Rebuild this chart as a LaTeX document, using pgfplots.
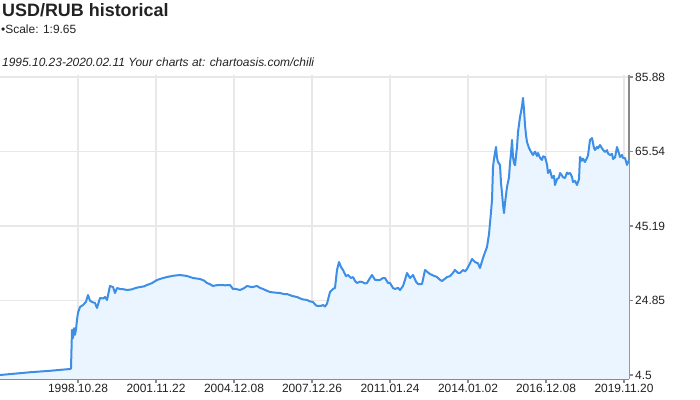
\documentclass[border=0pt]{standalone}
\usepackage{pgfplots}
\pgfplotsset{compat=1.18}
\usepackage{pgfplotstable}
\usepackage{fontspec}
\setmainfont{Liberation Sans}
\definecolor{linec}{HTML}{3D8EE6}
\definecolor{fillc}{HTML}{EAF5FF}
\definecolor{gridc}{HTML}{E8E8E8}
\definecolor{axc}{HTML}{8A8A8A}
\definecolor{txt}{HTML}{222222}

\pgfplotstableread{
x y
0 4.50
10 4.75
20 5.00
30 5.25
40 5.45
50 5.65
60 5.90
70 6.14
71 6.30
72 16.8
73 14.6
74 17.3
75 15.5
76 17.0
77 19.5
78 21.5
80 23.07
83 23.62
86 24.5
88 26.35
90 24.8
92 24.44
95 24.16
97 22.80
100 25.53
103 25.4
105 25.80
107 24.98
110 28.81
113 28.53
115 26.89
117 28.26
120 28.0
124 27.9
127 27.71
132 27.9
136 28.3
140 28.53
144 28.7
147 29.08
152 29.6
157 30.44
162 30.9
167 31.26
173 31.6
180 31.81
187 31.54
193 30.99
200 30.72
204 30.3
207 29.63
210 29.3
213 28.81
216 29.0
220 29.08
225 29.0
230 29.08
233 27.99
236 28.0
240 27.71
244 28.2
247 28.81
252 28.5
257 28.81
260 28.3
263 27.99
267 27.5
270 27.17
275 27.0
280 26.89
284 26.6
287 26.62
292 26.1
297 25.80
302 25.2
307 24.98
310 24.6
313 24.44
316 23.5
318 23.34
321 23.4
323 23.6
325 23.2
327 24.0
330 27.17
333 28.0
335 28.26
337 33.18
339 35.36
341 34.0
343 33.18
346 31.5
348 31.81
351 31.0
353 31.26
355 30.2
357 29.63
360 30.0
362 29.90
365 29.5
367 29.63
370 31.0
372 31.81
375 30.5
377 30.44
380 30.44
383 30.99
385 30.99
388 29.63
390 29.63
393 28.26
395 27.99
398 28.3
400 27.71
403 28.81
405 30.5
407 32.36
410 30.99
413 31.81
416 30.0
418 29.35
422 29.35
425 33.18
428 32.5
430 32.08
433 31.7
437 31.26
440 30.5
442 30.17
445 30.8
447 31.26
450 31.5
452 32.08
455 33.18
458 32.4
460 32.36
463 33.18
465 32.8
467 33.45
470 35.0
472 36.18
475 35.36
478 35.0
480 33.72
483 36.45
485 38.0
487 39.46
489 43.0
490 46.01
491 49.0
492 52.29
493 61.30
494 63.5
496 66.77
497 63.8
498 62.67
500 61.85
501 57.0
502 54.20
503 51.0
504 48.74
505 51.47
507 55.84
509 58.5
510 62.40
511 65.0
512 68.68
513 64.0
514 62.40
515 61.8
517 66.77
518 70.86
520 74.96
521 76.33
522 78.0
523 80.15
524 77.0
525 72.78
526 70.0
527 68.13
529 66.5
530 65.95
532 65.0
533 64.58
535 65.5
537 64.3
538 65.13
540 63.8
542 63.22
543 64.2
545 64.04
547 62.0
548 59.67
550 60.5
552 58.30
554 58.9
555 56.39
557 58.0
559 58.4
560 59.67
562 59.0
563 58.5
565 58.30
567 59.8
568 59.4
570 59.67
572 58.6
573 57.21
575 57.5
577 56.39
579 58.0
580 64.04
582 63.0
583 63.6
585 62.67
587 63.8
588 64.5
590 68.68
592 69.22
594 66.5
595 65.95
597 66.8
598 66.4
600 67.31
602 66.4
603 66.0
605 65.40
607 65.9
608 65.0
610 64.58
612 64.9
613 63.5
615 63.9
617 66.77
619 65.0
620 64.04
622 64.6
623 63.76
625 63.76
627 61.85
629 63.2
}\usdrub

\begin{document}
\begin{tikzpicture}
\useasboundingbox (0,0) rectangle (700bp,400bp);
\begin{axis}[
  at={(0bp,21bp)}, anchor=south west,
  scale only axis, width=629bp, height=304bp,
  xmin=0, xmax=629, ymin=3.41, ymax=86.43,
  axis x line*=bottom, axis y line*=right,
  axis line style={axc, line width=1.5bp, -},
  xtick={78,156,234,312,390,468,546,624},
  xticklabels={1998.10.28,2001.11.22,2004.12.08,2007.12.26,2011.01.24,2014.01.02,2016.12.08,2019.11.20},
  ytick={4.5,24.845,45.19,65.535,85.88},
  yticklabels={4.5,24.85,45.19,65.54,85.88},
  tick align=outside,
  major tick length=4bp,
  tick style={axc, line width=1.2bp},
  grid=major,
  major grid style={gridc, line width=1.5bp},
  tick label style={font=\fontsize{12}{14}\selectfont, text=txt},
  xticklabel style={inner sep=1bp},
  yticklabel style={inner sep=2bp},
]
\addplot[draw=none, fill=fillc] table[x=x, y=y] {\usdrub} \closedcycle;
\addplot[linec, line width=2bp, line join=round] table[x=x, y=y] {\usdrub};
\end{axis}
\node[anchor=base west, inner sep=0, text=txt] at (2bp,383bp) {\fontsize{18}{20}\selectfont\bfseries USD/RUB historical};
\node[anchor=base west, inner sep=0, text=txt] at (1bp,366bp) {\fontsize{12}{14}\selectfont •Scale: 1:9.65};
\node[anchor=base west, inner sep=0, text=txt] at (2bp,333bp) {\fontsize{12}{14}\selectfont\itshape 1995.10.23-2020.02.11 Your charts at: chartoasis.com/chili};
\end{tikzpicture}
\end{document}
